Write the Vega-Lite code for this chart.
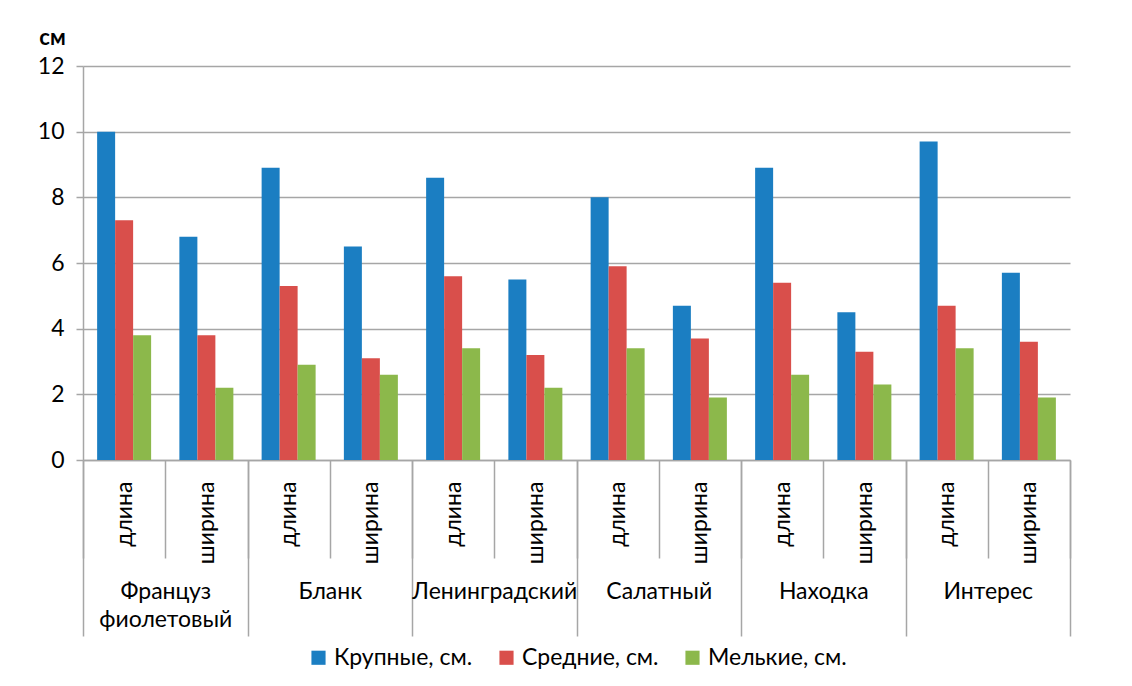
{
  "$schema": "https://vega.github.io/schema/vega-lite/v6.json",
  "width": 987,
  "height": 394,
  "autosize": {"type": "none"},
  "padding": {"left": 83, "top": 66, "right": 62, "bottom": 226},
  "background": "white",
  "config": {
    "view": {"stroke": null},
    "font": "Lato",
    "axis": {"labelFont": "Lato", "titleFont": "Lato", "labelColor": "#000000", "titleColor": "#000000"},
    "legend": {"labelFont": "Lato", "labelColor": "#000000"}
  },
  "data": {
    "values": [
      {"variety": "Француз фиолетовый", "cat": "Француз фиолетовый|длина", "series": "Крупные, см.", "value": 10.0},
      {"variety": "Француз фиолетовый", "cat": "Француз фиолетовый|длина", "series": "Средние, см.", "value": 7.3},
      {"variety": "Француз фиолетовый", "cat": "Француз фиолетовый|длина", "series": "Мелькие, см.", "value": 3.8},
      {"variety": "Француз фиолетовый", "cat": "Француз фиолетовый|ширина", "series": "Крупные, см.", "value": 6.8},
      {"variety": "Француз фиолетовый", "cat": "Француз фиолетовый|ширина", "series": "Средние, см.", "value": 3.8},
      {"variety": "Француз фиолетовый", "cat": "Француз фиолетовый|ширина", "series": "Мелькие, см.", "value": 2.2},
      {"variety": "Бланк", "cat": "Бланк|длина", "series": "Крупные, см.", "value": 8.9},
      {"variety": "Бланк", "cat": "Бланк|длина", "series": "Средние, см.", "value": 5.3},
      {"variety": "Бланк", "cat": "Бланк|длина", "series": "Мелькие, см.", "value": 2.9},
      {"variety": "Бланк", "cat": "Бланк|ширина", "series": "Крупные, см.", "value": 6.5},
      {"variety": "Бланк", "cat": "Бланк|ширина", "series": "Средние, см.", "value": 3.1},
      {"variety": "Бланк", "cat": "Бланк|ширина", "series": "Мелькие, см.", "value": 2.6},
      {"variety": "Ленинградский", "cat": "Ленинградский|длина", "series": "Крупные, см.", "value": 8.6},
      {"variety": "Ленинградский", "cat": "Ленинградский|длина", "series": "Средние, см.", "value": 5.6},
      {"variety": "Ленинградский", "cat": "Ленинградский|длина", "series": "Мелькие, см.", "value": 3.4},
      {"variety": "Ленинградский", "cat": "Ленинградский|ширина", "series": "Крупные, см.", "value": 5.5},
      {"variety": "Ленинградский", "cat": "Ленинградский|ширина", "series": "Средние, см.", "value": 3.2},
      {"variety": "Ленинградский", "cat": "Ленинградский|ширина", "series": "Мелькие, см.", "value": 2.2},
      {"variety": "Салатный", "cat": "Салатный|длина", "series": "Крупные, см.", "value": 8.0},
      {"variety": "Салатный", "cat": "Салатный|длина", "series": "Средние, см.", "value": 5.9},
      {"variety": "Салатный", "cat": "Салатный|длина", "series": "Мелькие, см.", "value": 3.4},
      {"variety": "Салатный", "cat": "Салатный|ширина", "series": "Крупные, см.", "value": 4.7},
      {"variety": "Салатный", "cat": "Салатный|ширина", "series": "Средние, см.", "value": 3.7},
      {"variety": "Салатный", "cat": "Салатный|ширина", "series": "Мелькие, см.", "value": 1.9},
      {"variety": "Находка", "cat": "Находка|длина", "series": "Крупные, см.", "value": 8.9},
      {"variety": "Находка", "cat": "Находка|длина", "series": "Средние, см.", "value": 5.4},
      {"variety": "Находка", "cat": "Находка|длина", "series": "Мелькие, см.", "value": 2.6},
      {"variety": "Находка", "cat": "Находка|ширина", "series": "Крупные, см.", "value": 4.5},
      {"variety": "Находка", "cat": "Находка|ширина", "series": "Средние, см.", "value": 3.3},
      {"variety": "Находка", "cat": "Находка|ширина", "series": "Мелькие, см.", "value": 2.3},
      {"variety": "Интерес", "cat": "Интерес|длина", "series": "Крупные, см.", "value": 9.7},
      {"variety": "Интерес", "cat": "Интерес|длина", "series": "Средние, см.", "value": 4.7},
      {"variety": "Интерес", "cat": "Интерес|длина", "series": "Мелькие, см.", "value": 3.4},
      {"variety": "Интерес", "cat": "Интерес|ширина", "series": "Крупные, см.", "value": 5.7},
      {"variety": "Интерес", "cat": "Интерес|ширина", "series": "Средние, см.", "value": 3.6},
      {"variety": "Интерес", "cat": "Интерес|ширина", "series": "Мелькие, см.", "value": 1.9}
    ]
  },
  "layer": [
    {
      "mark": {"type": "bar", "opacity": 0},
      "encoding": {
        "x": {
          "field": "variety", "type": "nominal", "sort": null,
          "scale": {"paddingInner": 0, "paddingOuter": 0},
          "axis": {
            "orient": "bottom", "title": null, "domain": false,
            "ticks": true, "tickBand": "extent", "tickSize": 176, "tickColor": "#a6a6a6", "tickWidth": 1.5,
            "labelAngle": 0, "labelPadding": -56, "labelFontSize": 23, "labelLineHeight": 28,
            "labelBaseline": "top", "labelExpr": "split(datum.label, ' ')", "labelLimit": 250
          }
        }
      }
    },
    {
      "mark": {"type": "bar"},
      "encoding": {
        "x": {
          "field": "cat", "type": "nominal", "sort": null,
          "scale": {"paddingInner": 0, "paddingOuter": 0},
          "axis": {
            "orient": "bottom", "title": null,
            "domain": true, "domainColor": "#a6a6a6", "domainWidth": 1.5,
            "ticks": true, "tickBand": "extent", "tickSize": 98, "tickColor": "#a6a6a6", "tickWidth": 1.5,
            "labelAngle": -90, "labelPadding": -77, "labelFontSize": 23,
            "labelExpr": "split(datum.label, '|')[1]"
          }
        },
        "xOffset": {
          "field": "series", "type": "nominal",
          "scale": {"domain": ["Крупные, см.", "Средние, см.", "Мелькие, см."], "paddingInner": 0, "paddingOuter": 0.785}
        },
        "y": {
          "field": "value", "type": "quantitative",
          "scale": {"domain": [0, 12], "nice": false},
          "axis": {
            "values": [0, 2, 4, 6, 8, 10, 12],
            "title": "см", "titleAngle": 0, "titleX": -31, "titleY": -29, "titleAlign": "center", "titleBaseline": "middle",
            "titleFontSize": 22, "titleFontWeight": "bold",
            "grid": true, "gridColor": "#a6a6a6", "gridWidth": 1.5,
            "domain": true, "domainColor": "#a6a6a6", "domainWidth": 1.5,
            "tickColor": "#a6a6a6", "tickSize": 7, "tickWidth": 1.5,
            "labelFontSize": 23, "labelPadding": 12
          }
        },
        "color": {
          "field": "series", "type": "nominal",
          "scale": {"domain": ["Крупные, см.", "Средние, см.", "Мелькие, см."], "range": ["#1b7ec2", "#d94f4b", "#8cb84b"]},
          "legend": {
            "orient": "none", "legendX": 224, "legendY": 580, "direction": "horizontal", "title": null,
            "labelFontSize": 23, "symbolType": "square", "symbolSize": 200, "symbolStrokeWidth": 0,
            "columnPadding": 22, "labelOffset": 4, "labelLimit": 250
          }
        }
      }
    }
  ],
  "resolve": {"scale": {"x": "independent"}, "axis": {"x": "independent"}}
}
